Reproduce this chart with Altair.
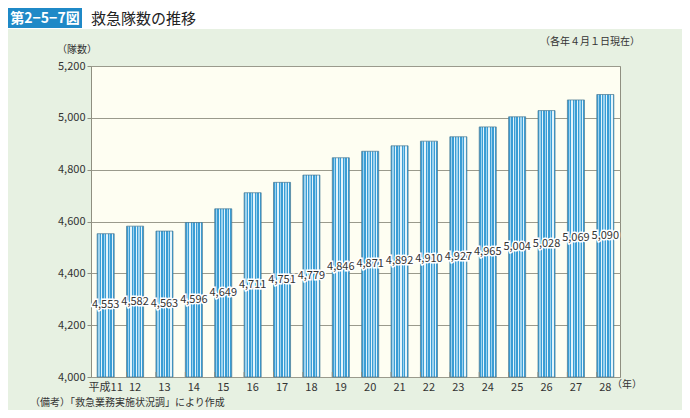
import altair as alt
import pandas as pd

years = ["平成11", "12", "13", "14", "15", "16", "17", "18", "19", "20",
         "21", "22", "23", "24", "25", "26", "27", "28"]
counts = [4553, 4582, 4563, 4596, 4649, 4711, 4751, 4779, 4846, 4871,
          4892, 4910, 4927, 4965, 5004, 5028, 5069, 5090]
y_ticks = [4000, 4200, 4400, 4600, 4800, 5000, 5200]

title_badge = "第2−5−7図"
title_text = "救急隊数の推移"
unit_label = "（隊数）"
date_note = "（各年４月１日現在）"
year_unit = "（年）"
source_note = "（備考）「救急業務実施状況調」により作成"

df = pd.DataFrame({"year": years, "count": counts})

FONT = "Noto Sans CJK JP"
W, H = 529, 311

# striped fill for bars
D, L, Wt = "#3a9dd5", "#9dd2ee", "#e4f4fb"
stripes = [D, L, D, Wt, D, L, D, Wt, D, L, D, Wt, D]
stops = []
n = len(stripes)
for i, c in enumerate(stripes):
    stops.append(alt.GradientStop(offset=i / n, color=c))
    stops.append(alt.GradientStop(offset=(i + 1) / n, color=c))
grad = alt.Gradient(gradient="linear", x1=0, x2=1, y1=0, y2=0, stops=stops)

xenc = alt.X("year:N", sort=years, scale=alt.Scale(paddingInner=0.42, paddingOuter=0.21),
             axis=alt.Axis(title=None, labelAngle=0, labelFont=FONT, labelFontSize=11,
                           labelColor="#333333", ticks=False, domain=False, labelPadding=4))
yscale = alt.Scale(domain=[4000, 5200], nice=False, zero=False)
yenc = alt.Y("count:Q", scale=yscale,
             axis=alt.Axis(title=None, values=y_ticks, format=",d", labelFont=FONT,
                           labelFontSize=11, labelColor="#333333", tickSize=4,
                           tickColor="#8f8f80", domain=False, gridColor="#9a9a8c",
                           gridWidth=1, labelPadding=2))

base = alt.Chart(df)

bars = base.mark_bar(color=grad, stroke="#4a7890", strokeWidth=0.7).encode(
    x=xenc, y=yenc, y2=alt.datum(4000)
)

ticks = base.mark_rule(color="#8f8f80", strokeWidth=1).encode(
    x=alt.X("year:N", sort=years, bandPosition=0),
    y=alt.value(H), y2=alt.value(H - 5)
).transform_filter(alt.datum.year != years[0])

lab = base.transform_calculate(mid="(datum.count + 4000) / 2").encode(
    x=alt.X("year:N", sort=years),
    y=alt.Y("mid:Q", scale=yscale),
    text=alt.Text("count:Q", format=",d"),
)
halo = lab.mark_text(font=FONT, fontSize=11, color="white", stroke="white", strokeWidth=3)
labels = lab.mark_text(font=FONT, fontSize=11, color="#333333")


def txt(s, x, y, size=10, color="#333333", align="left", weight="normal"):
    return alt.Chart(alt.Data(values=[{"t": s}])).mark_text(
        font=FONT, fontSize=size, color=color, align=align, baseline="middle",
        fontWeight=weight
    ).encode(text="t:N", x=alt.value(x), y=alt.value(y))


def box(x, x2, y, y2, color):
    return alt.Chart(alt.Data(values=[{}])).mark_rect(color=color).encode(
        x=alt.value(x), x2=alt.value(x2), y=alt.value(y), y2=alt.value(y2)
    )


white_band = box(-83, 591, -58, -37, "white")
badge = box(-83, -9, -58, -38, "#1f89c7")
badge_t = txt(title_badge, -46, -47.5, size=14, color="white", align="center", weight="bold")
title_t = txt(title_text, 0, -47.5, size=15, color="#222222")
unit_t = txt(unit_label, -14, -16, size=10, align="center")
date_t = txt(date_note, 549, -24, size=10, align="right")
yr_t = txt(year_unit, 521, 319, size=10)
src_t = txt(source_note, -61, 337, size=10)

chart = alt.layer(
    white_band, badge, badge_t, title_t, unit_t, date_t, yr_t, src_t,
    bars, ticks, halo, labels
).properties(
    width=W, height=H,
    autosize=alt.AutoSizeParams(type="none"),
    padding={"left": 83, "top": 58, "right": 62, "bottom": 33},
    background="#e7f1e2",
).configure_view(
    fill="#fefef2", stroke="#8f8f80", strokeWidth=1
)

chart.save("out.html", embed_options={"renderer": "svg", "actions": False})
